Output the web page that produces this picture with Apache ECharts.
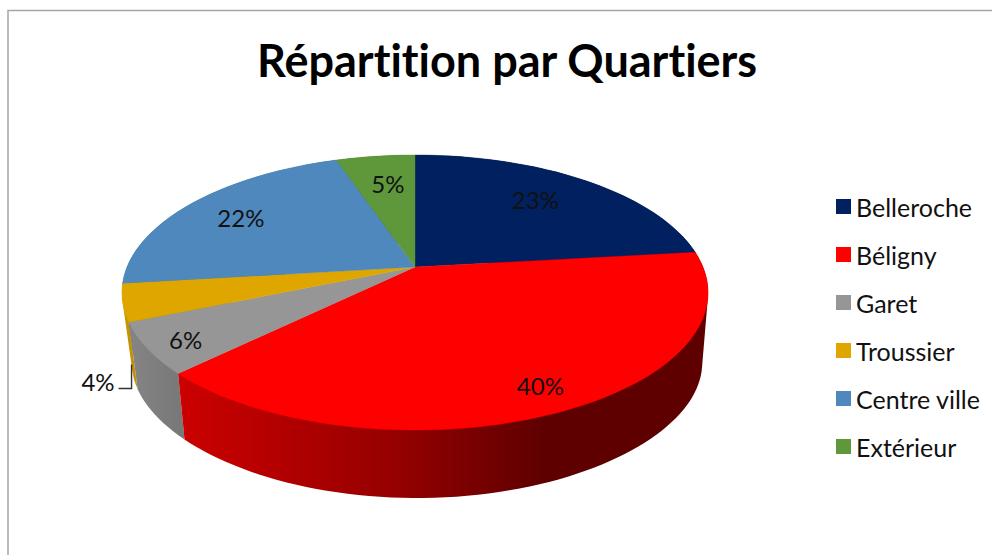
<!DOCTYPE html>
<html><head><meta charset="utf-8">
<style>html,body{margin:0;padding:0;background:#fff}#c{width:992px;height:555px}#c text{font-variant-ligatures:none}</style>
<script src="https://cdn.jsdelivr.net/npm/echarts@6/dist/echarts.min.js"></script>
</head><body><div id="c"></div>
<script>
const titleText = 'Répartition par Quartiers';
const categories = ['Belleroche', 'Béligny', 'Garet', 'Troussier', 'Centre ville', 'Extérieur'];
const shares = [23.2, 39.5, 6.0, 4.4, 21.7, 5.2];
const colors = ['#002060', '#FF0000', '#969696', '#DFA600', '#4E88BC', '#5E983B'];

// perspective of the pie disc: top face, then the lower rim
const view = { cx: 415, cy: 267, A: 132.8, B: 288, k: 0.1855,
  lowCx: 417, lowB: 279.4, lowKx: 0.2, lowCy: 338, lowA: 120, lowK: 0.25 };
const labelRadius = [0.7, 0.85, 0.87, 1.08, 0.75, 0.7];
const labelShift = [[-2, -4], [3, 0], [0, 3], [0, 76], [-4, 0], [2, -2]];
const labelLeader = [false, false, false, true, false, false];
// wall shading along x: [x, brightness]
const shade = [[120, 0.9], [180, 0.8], [400, 0.58], [545, 0.37], [720, 0.37]];

const total = shares.reduce((a, b) => a + b, 0);
function unit(frac, r) {
  const t = 2 * Math.PI * frac;
  return [r * Math.sin(t), r * Math.cos(t)];
}
function top3d(f, r) {
  const [x, y] = unit(f, r), d = 1 + view.k * y;
  return [view.cx + view.B * x / d, view.cy - view.A * y / d];
}
function low3d(f) {
  const [x, y] = unit(f, 1);
  return [view.lowCx + view.lowB * x / (1 + view.lowKx * y), view.lowCy - view.lowA * y / (1 + view.lowK * y)];
}
function arc(fn, a, b) {
  const n = Math.max(2, Math.ceil((b - a) * 200)), out = [];
  for (let i = 0; i <= n; i++) out.push(fn(a + (b - a) * i / n));
  return out;
}
// outline of a slice's wall: the hull of both rims (its inner side stays under the top face)
function hull(points) {
  const p = points.slice().sort((u, v) => u[0] - v[0] || u[1] - v[1]);
  const cross = (o, u, v) => (u[0] - o[0]) * (v[1] - o[1]) - (u[1] - o[1]) * (v[0] - o[0]);
  const half = list => {
    const out = [];
    for (const q of list) {
      while (out.length > 1 && cross(out[out.length - 2], out[out.length - 1], q) <= 0) out.pop();
      out.push(q);
    }
    out.pop();
    return out;
  };
  return half(p).concat(half(p.slice().reverse()));
}
function tint(hex, m) {
  const v = parseInt(hex.slice(1), 16);
  return 'rgb(' + [v >> 16, (v >> 8) & 255, v & 255].map(c => Math.round(c * m)).join(',') + ')';
}
function wallFill(hex) {
  const x0 = shade[0][0], x1 = shade[shade.length - 1][0];
  return { type: 'linear', global: true, x: x0, y: 0, x2: x1, y2: 0,
    colorStops: shade.map(s => ({ offset: (s[0] - x0) / (x1 - x0), color: tint(hex, s[1]) })) };
}
function renderSlice(i, params, api) {
  const before = shares.slice(0, i).reduce((a, b) => a + b, 0);
  const a = before / total, b = a + api.value(0) / total, mid = (a + b) / 2;
  const topArc = arc(f => top3d(f, 1), a, b);
  const lowArc = arc(low3d, a, b);
  const depth = topArc.reduce((s, p) => s + p[1], 0) / topArc.length;
  const kids = [
    { type: 'polygon', z2: 500 + depth / 10, shape: { points: hull(topArc.concat(lowArc)) },
      style: { fill: wallFill(colors[i]) } },
    { type: 'polygon', z2: 1000, shape: { points: [[view.cx, view.cy]].concat(topArc) },
      style: { fill: colors[i], stroke: colors[i], lineWidth: 0.4 } }
  ];
  const lp = top3d(mid, labelRadius[i]);
  const lx = lp[0] + labelShift[i][0], ly = lp[1] + labelShift[i][1];
  kids.push({ type: 'text', z2: 2000, style: { x: lx, y: ly, text: Math.round(api.value(0)) + '%', fill: '#111',
    font: '24px Lato, "Noto Sans", sans-serif', align: 'center', verticalAlign: 'middle' } });
  if (labelLeader[i]) {
    kids.push({ type: 'polyline', z2: 2000, shape: { points: [[lx + 20.5, ly + 7], [lx + 33.5, ly + 7], [lx + 33.5, ly - 17]] },
      style: { stroke: '#333', lineWidth: 1.4, fill: null } });
  }
  return { type: 'group', children: kids };
}
const chart = echarts.init(document.getElementById('c'), null, { renderer: 'svg' });
chart.setOption({
  animation: false,
  backgroundColor: '#fff',
  title: { text: titleText, left: 257, top: 37, padding: 0,
    textStyle: { fontFamily: 'Lato, "Noto Sans", sans-serif', fontWeight: 'bold', fontSize: 45, color: '#000' } },
  legend: { orient: 'vertical', left: 836, top: 194, padding: 0, itemWidth: 15, itemHeight: 15, itemGap: 23,
    icon: 'rect', data: categories,
    textStyle: { fontFamily: 'Lato, "Noto Sans", sans-serif', fontSize: 25, color: '#111' } },
  graphic: [{ type: 'rect', z: -1, silent: true, shape: { x: 8, y: 10.5, width: 1200, height: 900 },
    style: { fill: 'none', stroke: '#a6a6a6', lineWidth: 1.5 } }],
  series: categories.map((name, i) => ({
    type: 'custom', name, coordinateSystem: 'none', silent: true,
    itemStyle: { color: colors[i] }, data: [[shares[i]]],
    renderItem: (params, api) => renderSlice(i, params, api)
  }))
});
</script></body></html>
